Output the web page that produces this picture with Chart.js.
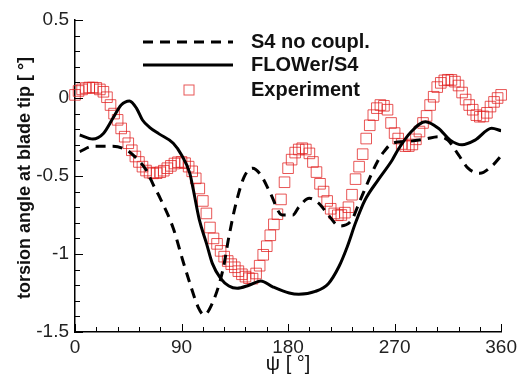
<!DOCTYPE html>
<html>
<head>
<meta charset="utf-8">
<script src="https://cdn.jsdelivr.net/npm/chart.js@4.4.1/dist/chart.umd.min.js"></script>
<style>
  html, body { margin: 0; padding: 0; background: #fff; }
  #wrap { width: 521px; height: 376px; }
</style>
</head>
<body>
<div id="wrap"><canvas id="myChart" width="521" height="376"></canvas></div>
<script>
// azimuth angles (deg) and torsion values
const psiS4 = [4, 15, 32, 44, 52, 60, 67, 72, 83, 91, 98, 104, 109, 116, 125, 130, 136, 143, 150, 157, 165, 175, 184, 189, 198, 206, 215, 223, 233, 241, 248, 256, 261, 268, 279, 296, 307, 315, 324, 332, 342, 353, 360];
const torsionS4 = [-0.344, -0.31, -0.31, -0.335, -0.387, -0.46, -0.57, -0.643, -0.835, -1.04, -1.21, -1.34, -1.39, -1.316, -1.10, -0.89, -0.675, -0.504, -0.45, -0.494, -0.61, -0.75, -0.75, -0.70, -0.643, -0.675, -0.76, -0.82, -0.79, -0.654, -0.53, -0.40, -0.344, -0.29, -0.28, -0.263, -0.248, -0.27, -0.365, -0.45, -0.483, -0.43, -0.37];

const psiFlower = [4, 15, 24, 32, 39, 46, 52, 57, 63, 71, 83, 90, 97, 100, 105, 111, 116, 123, 130, 137, 147, 157, 167, 181, 189, 203, 214, 223, 230, 237, 245, 256, 268, 273, 284, 296, 307, 317, 327, 338, 352, 360];
const torsionFlower = [-0.237, -0.263, -0.227, -0.13, -0.045, -0.019, -0.066, -0.141, -0.188, -0.23, -0.29, -0.365, -0.483, -0.59, -0.78, -0.93, -1.06, -1.156, -1.205, -1.22, -1.2, -1.173, -1.21, -1.25, -1.258, -1.24, -1.19, -1.08, -0.953, -0.80, -0.654, -0.526, -0.397, -0.33, -0.216, -0.152, -0.194, -0.27, -0.30, -0.27, -0.194, -0.21];

// experiment, one square every 3 deg from 0 to 360
const psiExp = [0, 3, 6, 9, 12, 15, 18, 21, 24, 27, 30, 33, 36, 39, 42, 45, 48, 51, 54, 57, 60, 63, 66, 69, 72, 75, 78, 81, 84, 87, 90, 93, 96, 99, 102, 105, 108, 111, 114, 117, 120, 123, 126, 129, 132, 135, 138, 141, 144, 147, 150, 153, 156, 159, 162, 165, 168, 171, 174, 177, 180, 183, 186, 189, 192, 195, 198, 201, 204, 207, 210, 213, 216, 219, 222, 225, 228, 231, 234, 237, 240, 243, 246, 249, 252, 255, 258, 261, 264, 267, 270, 273, 276, 279, 282, 285, 288, 291, 294, 297, 300, 303, 306, 309, 312, 315, 318, 321, 324, 327, 330, 333, 336, 339, 342, 345, 348, 351, 354, 357, 360];
const torsionExp = [0.02, 0.045, 0.055, 0.064, 0.067, 0.067, 0.065, 0.055, 0.04, 0.005, -0.045, -0.10, -0.14, -0.195, -0.248, -0.29, -0.335, -0.375, -0.41, -0.44, -0.465, -0.478, -0.483, -0.482, -0.476, -0.466, -0.45, -0.435, -0.42, -0.412, -0.41, -0.418, -0.44, -0.47, -0.515, -0.58, -0.66, -0.74, -0.83, -0.90, -0.935, -0.98, -1.017, -1.045, -1.065, -1.085, -1.11, -1.13, -1.145, -1.155, -1.158, -1.125, -1.075, -1.005, -0.95, -0.88, -0.81, -0.745, -0.65, -0.54, -0.45, -0.395, -0.35, -0.33, -0.322, -0.33, -0.355, -0.41, -0.475, -0.55, -0.60, -0.66, -0.71, -0.74, -0.752, -0.75, -0.735, -0.70, -0.62, -0.52, -0.44, -0.36, -0.26, -0.175, -0.11, -0.065, -0.045, -0.05, -0.075, -0.16, -0.225, -0.26, -0.295, -0.308, -0.308, -0.298, -0.265, -0.215, -0.16, -0.115, -0.045, 0.008, 0.07, 0.097, 0.113, 0.117, 0.116, 0.105, 0.08, 0.035, -0.01, -0.045, -0.075, -0.11, -0.12, -0.118, -0.095, -0.055, -0.025, 0.0, 0.02];

const xTicks = [0, 90, 180, 270, 360];
const yTicks = [-1.5, -1, -0.5, 0, 0.5];
const seriesNames = ["S4 no coupl.", "FLOWer/S4", "Experiment"];
const yTitle = "torsion angle at blade tip [ °]";

const FONT = "'Liberation Sans', Arial, sans-serif";
const expColor = "rgba(224, 30, 30, 0.75)";

function pairs(xs, ys) {
  return xs.map((x, i) => ({ x: x, y: ys[i] }));
}

// small inward ticks (major + minor) on left and bottom axes
const innerTicks = {
  id: "innerTicks",
  afterDraw(chart) {
    const ctx = chart.ctx;
    const xs = chart.scales.x, ys = chart.scales.y;
    const area = chart.chartArea;
    ctx.save();
    ctx.strokeStyle = "#000";
    ctx.lineWidth = 1;
    ctx.beginPath();
    for (let v = 0; v <= 360; v += 18) {
      const px = Math.round(xs.getPixelForValue(v)) + 0.5;
      const len = v % 90 === 0 ? 8 : 5;
      ctx.moveTo(px, area.bottom);
      ctx.lineTo(px, area.bottom - len);
    }
    for (let k = -15; k <= 5; k++) {
      const py = Math.round(ys.getPixelForValue(k / 10)) + 0.5;
      const len = k % 5 === 0 ? 8 : 5;
      ctx.moveTo(area.left, py);
      ctx.lineTo(area.left + len, py);
    }
    ctx.stroke();
    ctx.restore();
  }
};

// legend and y title drawn like the original
const plotLegend = {
  id: "plotLegend",
  afterDraw(chart) {
    const ctx = chart.ctx;
    ctx.save();
    ctx.strokeStyle = "#000";
    ctx.lineWidth = 3;
    ctx.setLineDash([10, 7]);
    ctx.beginPath();
    ctx.moveTo(143, 42);
    ctx.lineTo(233, 42);
    ctx.stroke();
    ctx.setLineDash([]);
    ctx.beginPath();
    ctx.moveTo(143, 65);
    ctx.lineTo(233, 65);
    ctx.stroke();
    ctx.lineWidth = 1;
    ctx.strokeStyle = expColor;
    ctx.strokeRect(184, 85, 10, 10);
    ctx.fillStyle = "#111";
    ctx.font = "bold 20px " + FONT;
    ctx.textBaseline = "middle";
    ctx.fillText(seriesNames[0], 251, 42);
    ctx.fillText(seriesNames[1], 251, 65);
    ctx.fillText(seriesNames[2], 251, 90);

    ctx.translate(25, 178);
    ctx.rotate(-Math.PI / 2);
    ctx.font = "bold 18px " + FONT;
    ctx.textAlign = "center";
    ctx.fillText(yTitle, 0, 0);
    ctx.restore();
  }
};

const ctx = document.getElementById("myChart").getContext("2d");
new Chart(ctx, {
  type: "line",
  data: {
    datasets: [
      {
        label: seriesNames[0],
        data: pairs(psiS4, torsionS4),
        borderColor: "#000",
        borderWidth: 3,
        borderDash: [10, 7],
        pointRadius: 0,
        fill: false,
        cubicInterpolationMode: "monotone"
      },
      {
        label: seriesNames[1],
        data: pairs(psiFlower, torsionFlower),
        borderColor: "#000",
        borderWidth: 3,
        pointRadius: 0,
        fill: false,
        cubicInterpolationMode: "monotone"
      },
      {
        label: seriesNames[2],
        data: pairs(psiExp, torsionExp),
        showLine: false,
        pointStyle: "rect",
        pointRadius: 7.5,
        pointBorderWidth: 1,
        pointBorderColor: expColor,
        pointBackgroundColor: "rgba(0,0,0,0)",
        clip: false
      }
    ]
  },
  options: {
    responsive: false,
    animation: false,
    layout: { padding: { top: 20, right: 18, left: 0, bottom: 0 } },
    plugins: { legend: { display: false }, tooltip: { enabled: false } },
    scales: {
      x: {
        type: "linear",
        min: 0,
        max: 360,
        afterFit(scale) { scale.height = 44; },
        afterBuildTicks(scale) { scale.ticks = xTicks.map(v => ({ value: v })); },
        ticks: {
          color: "#222",
          font: { family: FONT, size: 19 },
          padding: 4,
          maxRotation: 0,
          autoSkip: false
        },
        grid: { drawOnChartArea: false, drawTicks: false },
        border: { color: "#000", width: 1.5 },
        title: {
          display: true,
          text: "ψ [ °]",
          color: "#111",
          font: { family: FONT, size: 20 },
          padding: 0
        }
      },
      y: {
        type: "linear",
        min: -1.5,
        max: 0.5,
        afterFit(scale) { scale.width = 75; },
        afterBuildTicks(scale) { scale.ticks = yTicks.map(v => ({ value: v })); },
        ticks: {
          color: "#222",
          font: { family: FONT, size: 19 },
          padding: 6,
          callback: v => String(v)
        },
        grid: { drawOnChartArea: false, drawTicks: false },
        border: { color: "#000", width: 1.5 },
        title: { display: false }
      }
    }
  },
  plugins: [innerTicks, plotLegend]
});
</script>
</body>
</html>
